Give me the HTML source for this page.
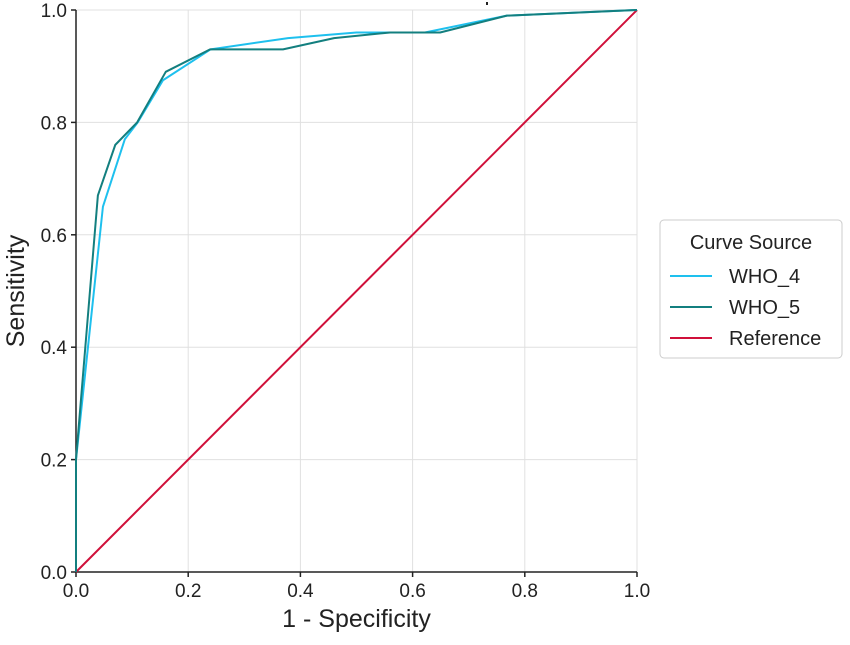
<!DOCTYPE html>
<html><head><meta charset="utf-8"><style>
body{margin:0;background:#fff;}
svg{font-family:"Liberation Sans","DejaVu Sans",sans-serif;}
</style></head><body>
<svg id="chart" width="850" height="640"></svg>
<script>
const ticks=[0,0.2,0.4,0.6,0.8,1.0];
const tickLabels=["0.0","0.2","0.4","0.6","0.8","1.0"];
const who4X=[0,0,0.048,0.087,0.11,0.155,0.24,0.378,0.5,0.622,0.768,1];
const who4Y=[0,0.2,0.65,0.77,0.80,0.875,0.93,0.95,0.96,0.96,0.99,1];
const who5X=[0,0,0.039,0.07,0.109,0.16,0.239,0.369,0.46,0.56,0.649,0.768,1];
const who5Y=[0,0.2,0.67,0.76,0.80,0.89,0.93,0.93,0.95,0.96,0.96,0.99,1];
const refX=[0,1];
const refY=[0,1];
const NS="http://www.w3.org/2000/svg";
const svg=document.getElementById('chart');
const X0=76,X1=637,Y0=572,Y1=10;
const sx=v=>X0+v*(X1-X0), sy=v=>Y0-v*(Y0-Y1);
function el(t,a,p){const e=document.createElementNS(NS,t);for(const k in a)e.setAttribute(k,a[k]);(p||svg).appendChild(e);return e;}
ticks.forEach((t,i)=>{
  const gx=el('line',{x1:sx(t),x2:sx(t),y1:Y1,y2:Y0,stroke:'#e0e0e0','stroke-width':1});
  
  
  const gy=el('line',{x1:X0,x2:X1,y1:sy(t),y2:sy(t),stroke:'#e0e0e0','stroke-width':1});
  
  
  const tx=el('text',{x:sx(t),y:Y0+25,'text-anchor':'middle','font-size':19,fill:'#222'});
  tx.textContent=tickLabels[i];
  
  
  const ty=el('text',{x:X0-9,y:sy(t)+7,'text-anchor':'end','font-size':19,fill:'#222'});
  ty.textContent=tickLabels[i];
  
  
  el('line',{x1:sx(t),x2:sx(t),y1:Y0,y2:Y0+5,stroke:'#222','stroke-width':1.5});
  el('line',{x1:X0-5,x2:X0,y1:sy(t),y2:sy(t),stroke:'#222','stroke-width':1.5});
});
const ax=el('path',{d:`M${X0},${Y1}V${Y0}H${X1}`,fill:'none',stroke:'#222','stroke-width':1.5});


el('rect',{x:486,y:2,width:2,height:3,fill:'#222'});
function line(xs,ys,c,name){
  const p=el('polyline',{points:xs.map((x,i)=>sx(x)+','+sy(ys[i])).join(' '),fill:'none',stroke:c,'stroke-width':2,'stroke-linejoin':'round'});
  
  
}
line(refX,refY,'#d0103a','reference-line');
line(who4X,who4Y,'#1ec0ee','who4-line');
line(who5X,who5Y,'#137f7f','who5-line');
const xt=el('text',{x:(X0+X1)/2,y:627,'text-anchor':'middle','font-size':25,fill:'#222'});
xt.textContent='1 - Specificity';


const yt=el('text',{x:0,y:0,'text-anchor':'middle','font-size':25,fill:'#222',transform:`translate(24,${(Y0+Y1)/2}) rotate(-90)`});
yt.textContent='Sensitivity';


const lg=el('g',{});


el('rect',{x:660,y:220,width:182,height:138,rx:4,fill:'#fff',stroke:'#ccc'},lg);
const lt=el('text',{x:751,y:249,'text-anchor':'middle','font-size':20,fill:'#222'},lg);
lt.textContent='Curve Source';
const ents=[['WHO_4','#1ec0ee'],['WHO_5','#137f7f'],['Reference','#d0103a']];
ents.forEach((e,i)=>{
  const g=el('g',{},lg);
  
  
  const y=276+i*31;
  el('line',{x1:670,x2:712,y1:y,y2:y,stroke:e[1],'stroke-width':2},g);
  const t=el('text',{x:729,y:y+7,'font-size':20,fill:'#222'},g);
  t.textContent=e[0];
});
</script>
</body></html>
